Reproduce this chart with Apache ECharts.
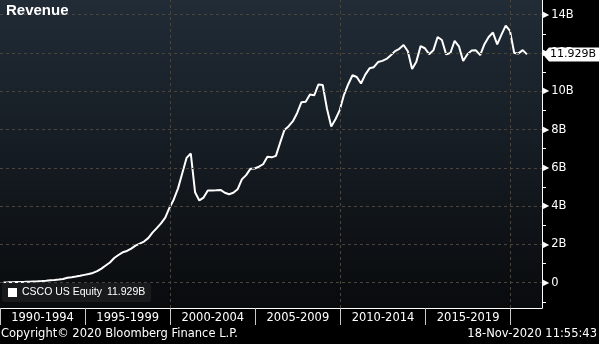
<!DOCTYPE html>
<html><head><meta charset="utf-8">
<script src="https://cdn.jsdelivr.net/npm/echarts@6/dist/echarts.min.js"></script>
<style>html,body{margin:0;padding:0;background:#000;}#c{width:599px;height:344px;}</style>
</head><body><div id="c"></div>
<script>
// ---- data ----
const seriesName = 'CSCO US Equity';
const chartTitle = 'Revenue';
const footerLeft = 'Copyright\u00A9 2020 Bloomberg Finance L.P.';
const footerRight = '18-Nov-2020 11:55:43';
const quarterEnds = [
 '1990-01','1990-04','1990-07','1990-10','1991-01','1991-04','1991-07','1991-10',
 '1992-01','1992-04','1992-07','1992-10','1993-01','1993-04','1993-07','1993-10',
 '1994-01','1994-04','1994-07','1994-10','1995-01','1995-04','1995-07','1995-10',
 '1996-01','1996-04','1996-07','1996-10','1997-01','1997-04','1997-07','1997-10',
 '1998-01','1998-04','1998-07','1998-10','1999-01','1999-04','1999-07','1999-10',
 '2000-01','2000-04','2000-07','2000-10','2001-01','2001-04','2001-07','2001-10',
 '2002-01','2002-04','2002-07','2002-10','2003-01','2003-04','2003-07','2003-10',
 '2004-01','2004-04','2004-07','2004-10','2005-01','2005-04','2005-07','2005-10',
 '2006-01','2006-04','2006-07','2006-10','2007-01','2007-04','2007-07','2007-10',
 '2008-01','2008-04','2008-07','2008-10','2009-01','2009-04','2009-07','2009-10',
 '2010-01','2010-04','2010-07','2010-10','2011-01','2011-04','2011-07','2011-10',
 '2012-01','2012-04','2012-07','2012-10','2013-01','2013-04','2013-07','2013-10',
 '2014-01','2014-04','2014-07','2014-10','2015-01','2015-04','2015-07','2015-10',
 '2016-01','2016-04','2016-07','2016-10','2017-01','2017-04','2017-07','2017-10',
 '2018-01','2018-04','2018-07','2018-10','2019-01','2019-04','2019-07','2019-10',
 '2020-01','2020-04','2020-07','2020-10'
];
// revenue, billions USD
const revenueB = [
 0.016,0.019,0.023,0.036, 0.042,0.048,0.057,0.070,
 0.079,0.089,0.103,0.130, 0.149,0.171,0.199,0.264,
 0.290,0.326,0.363,0.411, 0.453,0.512,0.603,0.740,
 0.900,1.060,1.290,1.450, 1.590,1.660,1.780,1.940,
 2.040,2.150,2.330,2.620, 2.850,3.100,3.400,3.920,
 4.350,4.930,5.720,6.520, 6.750,4.730,4.300,4.450,
 4.820,4.820,4.830,4.850, 4.700,4.620,4.700,4.880,
 5.400,5.620,5.950,5.970, 6.060,6.190,6.580,6.550,
 6.630,7.320,7.980,8.180, 8.440,8.870,9.430,9.460,
 9.830,9.790,10.360,10.330, 9.090,8.160,8.540,9.020,
 9.820,10.370,10.840,10.750, 10.410,10.870,11.200,11.260,
 11.530,11.590,11.690,11.880, 12.100,12.220,12.420,12.090,
 11.160,11.550,12.360,12.250, 11.940,12.140,12.840,12.680,
 11.930,12.000,12.640,12.350, 11.580,11.940,12.130,12.140,
 11.890,12.460,12.840,13.070, 12.450,12.960,13.430,13.160,
 12.000,11.980,12.150,11.929
];
const periodLabels = ['1990-1994','1995-1999','2000-2004','2005-2009','2010-2014','2015-2019'];
const periodCenters = [1992.5,1997.5,2002.5,2007.5,2012.5,2017.5];
const periodEdges = [1990,1995,2000,2005,2010,2015,2020];
const verticalGridYears = [2000,2010,2020];
const yLabelValues = [0,2,4,6,8,10,12,14];
const yMinorTicks = [-1,1,3,5,7,9,11,13];

// ---- build ----
const X_MIN = 1990, X_MAX = 2021.84, Y_MIN = -1.32, Y_MAX = 14.77;
function toYear(s){ const p = s.split('-'); return +p[0] + (+p[1] + 1.5)/12; }
const lineData = quarterEnds.map((d,i)=>[toYear(d), revenueB[i]]);
const lastV = revenueB[revenueB.length-1];
const lastTxt = lastV.toFixed(3) + 'B';
const FONT = "'DejaVu Sans', sans-serif";
const LFONT = "'Liberation Sans', Arial, sans-serif";

const chart = echarts.init(document.getElementById('c'), null, {renderer:'canvas'});
chart.setOption({
  backgroundColor:'#000',
  animation:false,
  title:[
    {text:chartTitle, left:6, top:3, padding:0, textStyle:{color:'#fff', fontSize:15, fontWeight:'bold', fontFamily:LFONT}},
    {text:footerLeft, left:1, top:328, padding:0, textStyle:{color:'#fff', fontSize:11.5, fontWeight:'normal', fontFamily:FONT}},
    {text:footerRight, right:2, top:328, padding:0, textStyle:{color:'#fff', fontSize:11.5, fontWeight:'normal', fontFamily:FONT}}
  ],
  grid:{left:0, top:0, right:57, bottom:36, show:true, borderWidth:0,
    backgroundColor:new echarts.graphic.LinearGradient(0,0,0,1,[{offset:0,color:'#212c37'},{offset:1,color:'#090b0d'}])},
  legend:{data:[seriesName], left:2, top:283, orient:'horizontal',
    backgroundColor:'#181a1c', borderRadius:3, padding:[4,6,4,6],
    itemWidth:9, itemHeight:9, itemGap:6, icon:'rect',
    formatter: n => '{n|' + n + '}{v|' + lastTxt + '}',
    textStyle:{color:'#fff', fontSize:10.5, fontFamily:LFONT,
      rich:{n:{color:'#fff', fontSize:10.5, fontFamily:LFONT},
            v:{color:'#fff', fontSize:10.5, padding:[0,0,0,5], fontFamily:LFONT}}}
  },
  xAxis:{type:'value', min:X_MIN, max:X_MAX, position:'bottom',
    axisLine:{show:true, onZero:false, lineStyle:{color:'#fff', width:1}},
    axisTick:{show:true, customValues:periodEdges, length:17, lineStyle:{color:'#c8c8c8', width:1}},
    axisLabel:{show:true, customValues:periodCenters, margin:4, color:'#fff', fontSize:11.5, fontFamily:FONT,
      formatter: v => { const i = periodCenters.findIndex(c => Math.abs(c - v) < 0.01); return i >= 0 ? periodLabels[i] : ''; }},
    splitLine:{show:false}
  },
  yAxis:{type:'value', min:Y_MIN, max:Y_MAX, position:'right',
    axisLine:{show:true, lineStyle:{color:'#fff', width:1}},
    axisTick:{show:true, customValues:yMinorTicks, length:4, lineStyle:{color:'#fff', width:1}},
    axisLabel:{show:true, customValues:yLabelValues, margin:1, color:'#fff',
      formatter: v => '{t|\u25B6}{v|' + (v === 0 ? '0' : v + 'B') + '}',
      rich:{t:{fontSize:8, color:'#fff', padding:[0,2,0,0], fontFamily:FONT},
            v:{fontSize:11.5, color:'#fff', fontFamily:FONT}}},
    splitLine:{show:false}
  },
  series:[
    {name:'grid', type:'line', data:[], z:1, silent:true,
      markLine:{silent:true, symbol:'none', animation:false, label:{show:false},
        lineStyle:{color:'#4a443f', type:[3,3], width:1},
        data: yLabelValues.map(v=>({yAxis:v})).concat(verticalGridYears.map(x=>({xAxis:x})))}},
    {name:seriesName, type:'line', data:lineData, z:3, showSymbol:false, symbol:'none',
      color:'#fff', lineStyle:{color:'#fff', width:2}, clip:false,
      markPoint:{silent:true, animation:false,
        symbol:'path://M0,7L6,0L56,0L56,14L6,14Z', symbolSize:[56,14], symbolOffset:[29,0],
        itemStyle:{color:'#fff'},
        label:{show:true, position:'inside', offset:[2,0], color:'#000', fontSize:11, fontFamily:FONT, formatter:lastTxt},
        data:[{coord:[X_MAX, lastV], value:lastV}]}}
  ]
});
</script></body></html>
